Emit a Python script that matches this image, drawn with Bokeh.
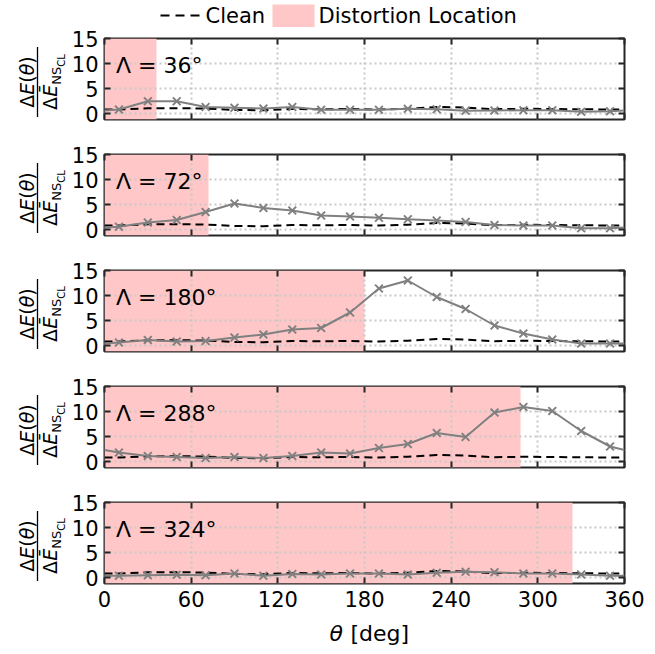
import numpy as np
from bokeh.plotting import figure
from bokeh.layouts import column, row
from bokeh.models import Range1d, FixedTicker, LinearAxis, Label, CustomJSTickFormatter
from bokeh.core.properties import value
from bokeh.embed import file_html
from bokeh.resources import INLINE

# ---------------- data ----------------
theta = [10, 30, 50, 70, 90, 110, 130, 150, 170, 190, 210, 230, 250, 270, 290, 310, 330, 350]
lambdas = [36, 72, 180, 288, 324]
lambda_labels = ["Λ = 36°", "Λ = 72°", "Λ = 180°", "Λ = 288°", "Λ = 324°"]

dist_36 = [0.8, 2.45, 2.45, 1.3, 1.15, 1.0, 1.3, 0.75, 0.75, 0.75, 0.95, 0.85, 0.55, 0.6, 0.65, 0.65, 0.35, 0.45]
dist_72 = [0.55, 1.4, 1.9, 3.5, 5.2, 4.3, 3.8, 2.8, 2.6, 2.35, 2.05, 1.8, 1.5, 0.9, 0.8, 0.8, 0.25, 0.25]
dist_180 = [0.6, 1.1, 0.8, 0.9, 1.6, 2.2, 3.2, 3.5, 6.6, 11.4, 13.0, 9.7, 7.3, 4.0, 2.4, 1.2, 0.4, 0.4]
dist_288 = [1.8, 1.1, 0.9, 0.7, 0.9, 0.7, 1.1, 1.8, 1.6, 2.7, 3.5, 5.7, 4.9, 9.8, 10.9, 10.1, 6.1, 3.0]
dist_324 = [0.35, 0.45, 0.55, 0.45, 0.8, 0.35, 0.7, 0.6, 0.8, 0.8, 0.6, 0.95, 1.15, 1.05, 0.8, 0.8, 0.6, 0.35]
dist_series = [dist_36, dist_72, dist_180, dist_288, dist_324]
# value of each distorted curve where it meets the 0/360 deg edges
dist_edge = [0.6, 0.4, 0.4, 2.3, 0.35]

clean = [0.8, 1.05, 1.05, 1.0, 0.7, 0.65, 0.9, 0.85, 0.9, 0.8, 0.95, 1.3, 1.2, 0.85, 0.95, 0.9, 0.85, 0.8]
clean_edge = 0.8

x_ticks = [0, 60, 120, 180, 240, 300, 360]
y_ticks = [0, 5, 10, 15]
legend_labels = ["Clean", "Distortion Location"]
x_label = ["θ", "[deg]"]

# ---------------- style ----------------
FONT = "DejaVu Sans"
PINK = "#ffc7c7"
GRAY = "#808080"
AX = "#262626"
FW, FH = 520, 81
Y0, Y1 = -1.2, 15
LEFTFIG = 66
LEFT = 104
LEGH = 27
TOPS = [38, 154, 270, 386, 502]


def style_axis(ax, font=None):
    ax.axis_line_color = None
    ax.major_tick_in = 6
    ax.major_tick_out = 0
    ax.major_tick_line_color = AX
    ax.major_tick_line_width = 2
    ax.minor_tick_line_color = None
    if font:
        ax.major_label_text_font = font
        ax.major_label_text_font_size = "21px"
        ax.major_label_text_color = "black"


def make_panel(i):
    last = i == 4
    p = figure(frame_width=FW, frame_height=FH,
               min_border_left=LEFT - LEFTFIG, min_border_right=31,
               min_border_top=TOPS[0] - LEGH if i == 0 else 18,
               min_border_bottom=34 if last else 17,
               x_range=Range1d(0, 360), y_range=Range1d(Y0, Y1),
               output_backend="svg", toolbar_location=None)
    p.outline_line_color = AX
    p.outline_line_width = 2
    p.outline_line_alpha = 1

    p.quad(left=[0], right=[lambdas[i]], bottom=[Y0], top=[Y1],
           fill_color=PINK, line_color=None, level="image")

    xs = [0] + theta + [360]
    p.line(xs, [clean_edge] + clean + [clean_edge], line_color="black",
           line_width=2, line_dash="8 5")
    p.line(xs, [dist_edge[i]] + dist_series[i] + [dist_edge[i]],
           line_color=GRAY, line_width=2)
    p.scatter(theta, dist_series[i], marker="x", size=11,
              line_color=GRAY, line_width=2)

    style_axis(p.xaxis[0], FONT)
    style_axis(p.yaxis[0], FONT)
    p.xaxis[0].ticker = FixedTicker(ticks=x_ticks)
    p.yaxis[0].ticker = FixedTicker(ticks=y_ticks)
    p.yaxis[0].major_label_standoff = 6
    p.xaxis[0].major_label_standoff = 7
    if not last:
        p.xaxis[0].formatter = CustomJSTickFormatter(code="return ''")
        p.xaxis[0].major_label_standoff = 0
        p.xaxis[0].major_label_text_font_size = "1px"

    top = LinearAxis(ticker=FixedTicker(ticks=x_ticks),
                     formatter=CustomJSTickFormatter(code="return ''"))
    right = LinearAxis(ticker=FixedTicker(ticks=y_ticks),
                       formatter=CustomJSTickFormatter(code="return ''"))
    for ax in (top, right):
        style_axis(ax)
        ax.major_label_standoff = 0
        ax.major_label_text_font_size = "1px"
    p.add_layout(top, "above")
    p.add_layout(right, "right")

    for g in (p.xgrid[0], p.ygrid[0]):
        g.grid_line_color = "#c8c8c8"
        g.grid_line_width = 2
        g.grid_line_dash = "2 3"
    p.xgrid[0].ticker = FixedTicker(ticks=x_ticks[1:-1])
    p.ygrid[0].ticker = FixedTicker(ticks=y_ticks[:-1])

    p.add_layout(Label(x=8, y=9.6, text=lambda_labels[i], text_font=FONT,
                       text_font_size="22px", text_baseline="middle",
                       text_align="left", text_color="black"))
    return p


# legend strip (data x == page x, data y == page y)
leg = figure(width=655 - LEFTFIG, height=LEGH, x_range=Range1d(LEFT, LEFT + FW),
             y_range=Range1d(LEGH, 0), x_axis_type=None, y_axis_type=None,
             output_backend="svg", toolbar_location=None, min_border=0)
leg.outline_line_color = None
leg.xgrid.visible = False
leg.ygrid.visible = False
leg.line([160, 199], [15, 15], line_color="black", line_width=2, line_dash="9 6")
leg.text(x=[205], y=[15], text=[legend_labels[0]], text_font=value(FONT),
         text_font_size="21px", text_baseline="middle", text_align="left",
         text_color="black")
leg.quad(left=[272], right=[314], top=[4], bottom=[27], fill_color=PINK, line_color=None)
leg.text(x=[318], y=[15], text=[legend_labels[1]], text_font=value(FONT),
         text_font_size="21px", text_baseline="middle", text_align="left",
         text_color="black")

panels = [make_panel(i) for i in range(5)]

# bottom strip with x-axis title
BOTH = 654 - LEGH - (TOPS[0] - LEGH + FH + 17) - 3 * 116 - (18 + FH + 34)
bot = figure(width=655 - LEFTFIG, height=BOTH, x_range=Range1d(LEFT, LEFT + FW),
             y_range=Range1d(BOTH, 0), x_axis_type=None, y_axis_type=None,
             output_backend="svg", toolbar_location=None, min_border=0)
bot.outline_line_color = None
bot.xgrid.visible = False
bot.ygrid.visible = False
bot.text(x=[329], y=[16], text=[x_label[0]], text_font=value(FONT),
         text_font_size="22px", text_font_style="italic", text_baseline="middle",
         text_align="left", text_color="black")
bot.text(x=[350], y=[16], text=[x_label[1]], text_font=value(FONT),
         text_font_size="22px", text_baseline="middle", text_align="left",
         text_color="black")

# left strip with rotated fraction labels (data == page px)
lf = figure(width=LEFTFIG, height=654, x_range=Range1d(0, LEFTFIG),
            y_range=Range1d(654, 0), x_axis_type=None, y_axis_type=None,
            output_backend="svg", toolbar_location=None, min_border=0)
lf.outline_line_color = None
lf.xgrid.visible = False
lf.ygrid.visible = False
ang = np.pi / 2
NS = 19
num_parts = [("Δ", 0.69, False), ("E", 0.63, True), ("(", 0.39, False),
             ("θ", 0.61, True), (")", 0.39, False)]
den_parts = [("Δ", 49, NS, 0.69, False), ("Ē", 49, NS, 0.63, True),
             ("NS", 56, 13, 1.39, False), ("CL", 61, 10, 1.26, False)]
for i in range(5):
    cy = TOPS[i] + FH / 2 + 3
    off = -sum(w for _, w, _ in num_parts) * NS / 2
    for t, w, it in num_parts:
        lf.text(x=[26], y=[cy - off], text=[t], angle=ang, text_font=value(FONT),
                text_font_size=f"{NS}px", text_font_style="italic" if it else "normal",
                text_align="left", text_baseline="middle", text_color="black")
        off += w * NS
    off = -sum(w * s for _, _, s, w, _ in den_parts) / 2
    for t, xx, s, w, it in den_parts:
        lf.text(x=[xx], y=[cy - off], text=[t], angle=ang, text_font=value(FONT),
                text_font_size=f"{s}px", text_font_style="italic" if it else "normal",
                text_align="left", text_baseline="middle", text_color="black")
        off += w * s
    lf.segment(x0=[37], x1=[37], y0=[cy - 35], y1=[cy + 35], line_color="black",
               line_width=1.3)

layout = row(lf, column(leg, *panels, bot, spacing=0), spacing=0)

open("out.html", "w").write(file_html(layout, INLINE))
